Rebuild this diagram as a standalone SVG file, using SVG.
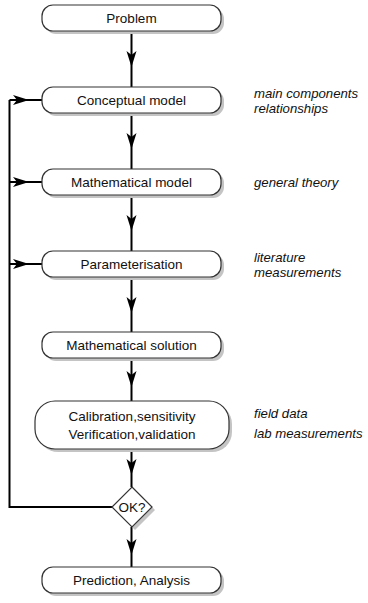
<svg xmlns="http://www.w3.org/2000/svg" width="368" height="603" viewBox="0 0 368 603">
<style>
.box{fill:#fff;stroke:#333;stroke-width:1.2}
.sh{fill:#c4c4c4}
.t{font-family:"Liberation Sans",Arial,sans-serif;font-size:13.5px;fill:#111;text-anchor:middle}
.n{font-family:"Liberation Sans",Arial,sans-serif;font-size:13.2px;fill:#111;font-style:italic}
.c{fill:none;stroke:#000;stroke-width:2}
</style>
<defs>
<marker id="ah" viewBox="-16 -6 18 12" markerWidth="18" markerHeight="12" refX="0" refY="0" orient="auto" markerUnits="userSpaceOnUse">
<path d="M0,0 L-16,-5 L-12,0 L-16,5 Z" fill="#000"/>
</marker>
</defs>
<g id="connectors">
<path class="c" d="M131.5,31 L131.5,67 L131.5,87" marker-mid="url(#ah)"/>
<path class="c" d="M131.5,113 L131.5,149 L131.5,169" marker-mid="url(#ah)"/>
<path class="c" d="M131.5,195 L131.5,231 L131.5,251" marker-mid="url(#ah)"/>
<path class="c" d="M131.5,277 L131.5,313 L131.5,332" marker-mid="url(#ah)"/>
<path class="c" d="M131.5,358 L131.5,387 L131.5,401" marker-mid="url(#ah)"/>
<path class="c" d="M131.5,449 L131.5,475 L131.5,487" marker-mid="url(#ah)"/>
<path class="c" d="M131.5,527 L131.5,555 L131.5,567" marker-mid="url(#ah)"/>
<path class="c" d="M112,507 L9.5,507 L9.5,100"/>
<path class="c" d="M9.5,100 L29,100 L42,100" marker-mid="url(#ah)"/>
<path class="c" d="M9.5,182 L29,182 L42,182" marker-mid="url(#ah)"/>
<path class="c" d="M9.5,264 L29,264 L42,264" marker-mid="url(#ah)"/>
</g>
<g id="problem">
<rect class="sh" x="45" y="8" width="179" height="26" rx="11"/>
<rect class="box" x="42" y="5" width="179" height="26" rx="11"/>
<text class="t" x="131.5" y="23">Problem</text>
</g>
<g id="conceptual">
<rect class="sh" x="45" y="90" width="179" height="26" rx="11"/>
<rect class="box" x="42" y="87" width="179" height="26" rx="11"/>
<text class="t" x="131.5" y="105">Conceptual model</text>
</g>
<g id="mathematical">
<rect class="sh" x="45" y="172" width="179" height="26" rx="11"/>
<rect class="box" x="42" y="169" width="179" height="26" rx="11"/>
<text class="t" x="131.5" y="187">Mathematical model</text>
</g>
<g id="parameterisation">
<rect class="sh" x="45" y="254" width="179" height="26" rx="11"/>
<rect class="box" x="42" y="251" width="179" height="26" rx="11"/>
<text class="t" x="131.5" y="269">Parameterisation</text>
</g>
<g id="solution">
<rect class="sh" x="45" y="335" width="179" height="26" rx="11"/>
<rect class="box" x="42" y="332" width="179" height="26" rx="11"/>
<text class="t" x="131.5" y="350">Mathematical solution</text>
</g>
<g id="calibration">
<rect class="sh" x="38" y="404" width="194" height="48" rx="20"/>
<rect class="box" x="35" y="401" width="194" height="48" rx="20"/>
<text class="t" x="132" y="421">Calibration,sensitivity</text>
<text class="t" x="132" y="439">Verification,validation</text>
</g>
<g id="ok">
<path class="sh" d="M135,490 L155,510 L135,530 L115,510 Z"/>
<path class="box" d="M132,487 L152,507 L132,527 L112,507 Z"/>
<text class="t" x="132" y="512">OK?</text>
</g>
<g id="prediction">
<rect class="sh" x="45" y="570" width="179" height="26" rx="11"/>
<rect class="box" x="42" y="567" width="179" height="26" rx="11"/>
<text class="t" x="131.5" y="585">Prediction, Analysis</text>
</g>
<g id="notes">
<text class="n" x="254" y="98">main components</text>
<text class="n" x="254" y="113">relationships</text>
<text class="n" x="254" y="187">general theory</text>
<text class="n" x="254" y="262">literature</text>
<text class="n" x="254" y="277">measurements</text>
<text class="n" x="254" y="418">field data</text>
<text class="n" x="254" y="438">lab measurements</text>
</g>
</svg>
